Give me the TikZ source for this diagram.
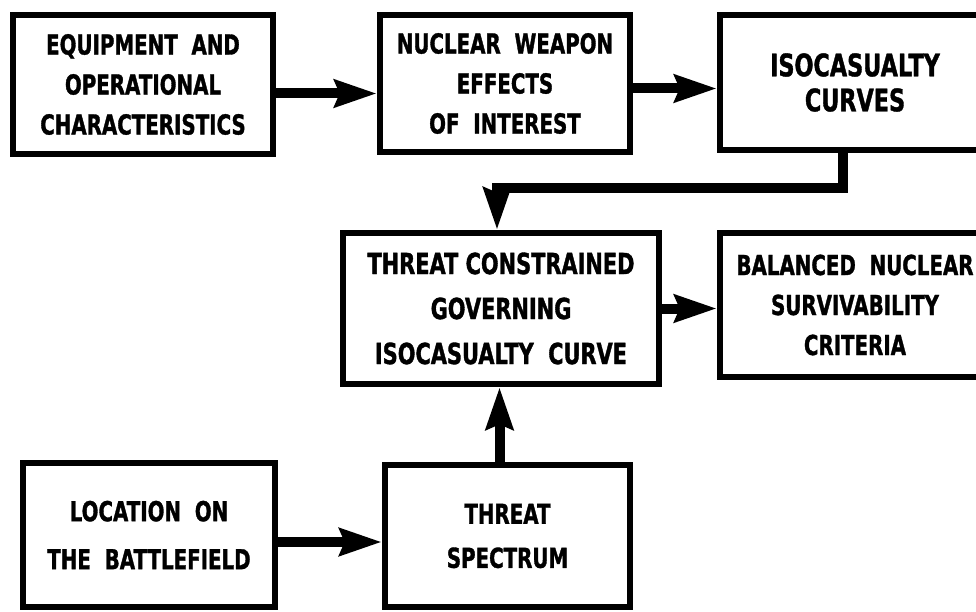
\documentclass[tikz,border=0pt]{standalone}
\usepackage{fontspec}
\newfontfamily\lblfont{DejaVu Sans Bold}[FakeStretch=0.72,FakeBold=1.2]
\usetikzlibrary{arrows.meta}
\begin{document}
\begin{tikzpicture}[x=1pt,y=-1pt,
  box/.style={draw, line width=6.5pt, inner sep=0pt, align=center,
    font=\lblfont\fontsize{27.5}{40}\selectfont},
  arr/.style={line width=10pt, -{Stealth[length=42pt,width=27pt,inset=5pt]}}]
\fill[white] (0,0) rectangle (976,612);
\useasboundingbox (0,0) rectangle (976,612);
\node[box, minimum width=260pt, minimum height=139pt] (A) at (143,84.5)
  {EQUIPMENT\ \ AND\\OPERATIONAL\\CHARACTERISTICS};
\node[box, minimum width=250pt, minimum height=137pt] (B) at (505,83.5)
  {NUCLEAR\ \ WEAPON\\EFFECTS\\OF\ \ INTEREST};
\node[box, minimum width=270pt, minimum height=135pt,
  font=\lblfont\fontsize{31}{35}\selectfont] (C) at (855,82.5)
  {ISOCASUALTY\\CURVES};
\node[box, minimum width=316pt, minimum height=151pt,
  font=\lblfont\fontsize{29}{45}\selectfont] (D) at (501,308.5)
  {THREAT CONSTRAINED\\GOVERNING\\ISOCASUALTY\ \ CURVE};
\node[box, minimum width=270pt, minimum height=144pt] (E) at (855,305)
  {BALANCED\ \ NUCLEAR\\SURVIVABILITY\\CRITERIA};
\node[box, minimum width=252pt, minimum height=144pt,
  font=\lblfont\fontsize{27.5}{48}\selectfont] (F) at (149,535)
  {LOCATION\ \ ON\\THE\ \ BATTLEFIELD};
\node[box, minimum width=245pt, minimum height=142pt,
  font=\lblfont\fontsize{27.5}{44}\selectfont] (G) at (507.5,536)
  {THREAT\\SPECTRUM};
\draw[arr] ([yshift=-9pt]A.east) -- ([yshift=-9pt]A.east -| B.west);
\draw[arr] ([yshift=-5pt]B.east) -- ([yshift=-5pt]B.east -| C.west);
\draw[arr] ([xshift=-12pt]C.south) -- ++(0,35) -| ([xshift=-4pt]D.north);
\draw[arr] (D.east) -- (D.east -| E.west);
\draw[arr] ([yshift=-7pt]F.east) -- ([yshift=-7pt]F.east -| G.west);
\draw[arr] ([xshift=-8pt]G.north) -- ([xshift=-8pt]G.north |- D.south);
\end{tikzpicture}
\end{document}
